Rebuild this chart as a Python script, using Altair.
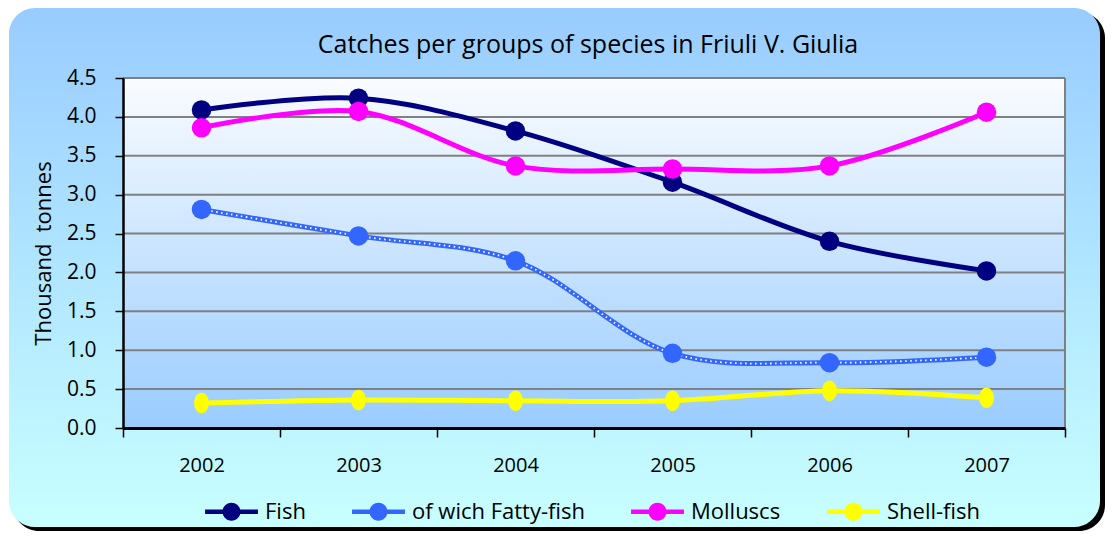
import altair as alt
import pandas as pd

# ---------------- data ----------------
years = ["2002", "2003", "2004", "2005", "2006", "2007"]
series = ["Fish", "of wich Fatty-fish", "Molluscs", "Shell-fish"]
fish = [4.09, 4.24, 3.82, 3.16, 2.40, 2.02]
fatty = [2.81, 2.47, 2.15, 0.96, 0.84, 0.91]
molluscs = [3.86, 4.07, 3.37, 3.33, 3.37, 4.06]
shell = [0.32, 0.36, 0.35, 0.35, 0.48, 0.39]
colors = ["#000080", "#3366FF", "#FF00FF", "#FFFF00"]
y_ticks = [0.0, 0.5, 1.0, 1.5, 2.0, 2.5, 3.0, 3.5, 4.0, 4.5]
grid_values = [0.5, 1.0, 1.5, 2.0, 2.5, 3.0, 3.5, 4.0, 4.5]
title_text = ["Catches per groups of species in Friuli V. Giulia"]
y_title = "Thousand\u00a0 tonnes"

rows = []
for name, vals in zip(series, [fish, fatty, molluscs, shell]):
    for yr, v in zip(years, vals):
        rows.append({"series": name, "year": yr, "value": v})
df = pd.DataFrame(rows)
grid_df = pd.DataFrame({"g": grid_values})
one = pd.DataFrame({"k": [0]})
title_df = pd.DataFrame({"t": title_text})

W, H = 942, 350
FONT = "Open Sans"

x_enc = alt.X("year:N", bandPosition=0.5,
              scale=alt.Scale(type="band", domain=years, paddingInner=0, paddingOuter=0),
              axis=alt.Axis(title=None, tickBand="extent", labelAngle=0, grid=False,
                            domainColor="black", domainWidth=3, tickColor="black",
                            tickWidth=1.5, tickSize=9, labelFontSize=20, labelFont=FONT,
                            labelColor="black", labelPadding=18, zindex=1))
y_scale = alt.Scale(domain=[0, 4.5], nice=False, zero=True)
y_axis = alt.Axis(title=y_title, values=y_ticks, format=".1f", grid=False,
                  labelOverlap=False, labelFlush=False,
                  domainColor="black", domainWidth=2.5, tickColor="black",
                  tickWidth=1.5, tickSize=8, labelFontSize=21, labelFont=FONT,
                  labelColor="black", labelPadding=19, titleFontSize=22,
                  titleFont=FONT, titleFontWeight="normal", titleColor="black",
                  titlePadding=11, zindex=1)
y_enc = alt.Y("value:Q", scale=y_scale, axis=y_axis)
color_scale = alt.Scale(domain=series, range=colors)

legend_sym = ("M-1,-0.085L1,-0.085L1,0.085L-1,0.085Z "
              "M0.34,0A0.34,0.34 0 1,1 -0.34,0A0.34,0.34 0 1,1 0.34,0Z")
legend = alt.Legend(title=None, orient="none", legendX=82, legendY=407,
                    direction="horizontal", symbolType=legend_sym,
                    symbolSize=2800, symbolStrokeWidth=0, symbolOpacity=1,
                    labelFontSize=22, labelFont=FONT, labelColor="black", labelLimit=400,
                    labelOffset=7, columnPadding=46, zindex=1)
color_enc = alt.Color("series:N", scale=color_scale, legend=legend)

outer_grad = alt.Gradient(gradient="linear",
                          stops=[alt.GradientStop(color="#99CCFF", offset=0),
                                 alt.GradientStop(color="#C8FFFF", offset=1)],
                          x1=0, x2=0, y1=0, y2=1)
plot_grad = alt.Gradient(gradient="linear",
                         stops=[alt.GradientStop(color="#FAFCFF", offset=0),
                                alt.GradientStop(color="#99CCFF", offset=1)],
                         x1=0, x2=0, y1=0, y2=1)

shadow = alt.Chart(one).mark_rect(fill="black", cornerRadius=26).encode(
    x=alt.value(-110), x2=alt.value(982), y=alt.value(-66), y2=alt.value(453))
outer = alt.Chart(one).mark_rect(fill=outer_grad, cornerRadius=26).encode(
    x=alt.value(-114), x2=alt.value(977), y=alt.value(-70), y2=alt.value(449))
plotbg = alt.Chart(one).mark_rect(fill=plot_grad).encode(
    x=alt.value(0), x2=alt.value(W), y=alt.value(0), y2=alt.value(H))
title = alt.Chart(title_df).mark_text(fontSize=25, font=FONT, color="black",
                                      align="center", baseline="alphabetic").encode(
    text="t:N", x=alt.value(W / 2 - 6), y=alt.value(-25))

grid = alt.Chart(grid_df).mark_rule(color="#808080", strokeWidth=2).encode(
    y=alt.Y("g:Q", scale=y_scale, axis=y_axis), x=alt.value(0), x2=alt.value(W))
right_border = alt.Chart(one).mark_rule(color="#808080", strokeWidth=2).encode(
    x=alt.value(W), y=alt.value(0), y2=alt.value(H))

base = alt.Chart(df)
lines = base.mark_line(interpolate="catmull-rom", strokeWidth=5, strokeCap="round").encode(
    x=x_enc, y=y_enc, color=color_enc, detail="series:N")
dots = base.transform_filter(alt.datum.series == "of wich Fatty-fish").mark_line(
    interpolate="catmull-rom", strokeWidth=1.8, color="white", strokeDash=[1.5, 3.5]).encode(
    x=x_enc, y=y_enc)

points = base.transform_filter(alt.datum.series != "Shell-fish").mark_point(
    filled=True, opacity=1, size=380, strokeWidth=0, shape="circle").encode(
    x=x_enc, y=y_enc, color=color_enc)

ellipse = "M0.72,0A0.72,1 0 1,1 -0.72,0A0.72,1 0 1,1 0.72,0Z"
shell_points = base.transform_filter(alt.datum.series == "Shell-fish").mark_point(
    filled=True, opacity=1, size=420, strokeWidth=0, shape=ellipse, color=colors[3]).encode(
    x=x_enc, y=y_enc)

chart = alt.layer(shadow, outer, plotbg, title, grid, right_border, lines, dots,
                  points, shell_points).properties(
    width=W, height=H,
    autosize=alt.AutoSizeParams(type="none"),
    padding={"left": 115, "top": 70, "right": 40, "bottom": 103},
    background="white",
).configure_view(stroke=None)

chart.save("out.html", embed_options={"renderer": "svg", "actions": False})
